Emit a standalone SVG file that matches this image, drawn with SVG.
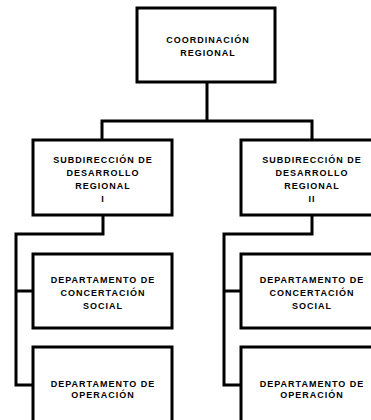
<svg xmlns="http://www.w3.org/2000/svg" width="371" height="420" viewBox="0 0 371 420">
<style>
.box{fill:#fff;stroke:#000;stroke-width:3}
.ln{fill:none;stroke:#000;stroke-width:3;stroke-linejoin:miter}
text{font-family:"Liberation Sans",Arial,sans-serif;font-weight:bold;font-size:9px;letter-spacing:1px;text-anchor:middle;fill:#000}
</style>
<rect width="371" height="420" fill="#fff"/>
<g id="connectors">
<path class="ln" d="M207 82V121M102 140V121H312V140"/>
<path class="ln" d="M103 215V234H16V385H33M16 291H33"/>
<path class="ln" d="M312 215V234H224V385H241M224 291H241"/>
</g>
<g id="coord">
<rect class="box" x="137" y="8" width="138" height="74"/>
<text x="208" y="42.5">COORDINACIÓN</text>
<text x="208" y="56">REGIONAL</text>
</g>
<g id="sub1">
<rect class="box" x="33" y="140" width="139" height="75"/>
<text x="103" y="163">SUBDIRECCIÓN DE</text>
<text x="103" y="176">DESARROLLO</text>
<text x="103" y="189">REGIONAL</text>
<text x="103" y="202">I</text>
</g>
<g id="sub2">
<rect class="box" x="241" y="140" width="139" height="75"/>
<text x="312" y="163">SUBDIRECCIÓN DE</text>
<text x="312" y="176">DESARROLLO</text>
<text x="312" y="189">REGIONAL</text>
<text x="312" y="202">II</text>
</g>
<g id="dep1a">
<rect class="box" x="33" y="254" width="139" height="74"/>
<text x="103" y="282.5">DEPARTAMENTO DE</text>
<text x="103" y="295.5">CONCERTACIÓN</text>
<text x="103" y="309">SOCIAL</text>
</g>
<g id="dep1b">
<rect class="box" x="33" y="347" width="139" height="76"/>
<text x="103" y="386.5">DEPARTAMENTO DE</text>
<text x="103" y="397.5">OPERACIÓN</text>
</g>
<g id="dep2a">
<rect class="box" x="241" y="254" width="139" height="74"/>
<text x="312" y="282.5">DEPARTAMENTO DE</text>
<text x="312" y="295.5">CONCERTACIÓN</text>
<text x="312" y="309">SOCIAL</text>
</g>
<g id="dep2b">
<rect class="box" x="241" y="347" width="139" height="76"/>
<text x="312" y="386.5">DEPARTAMENTO DE</text>
<text x="312" y="397.5">OPERACIÓN</text>
</g>
</svg>
